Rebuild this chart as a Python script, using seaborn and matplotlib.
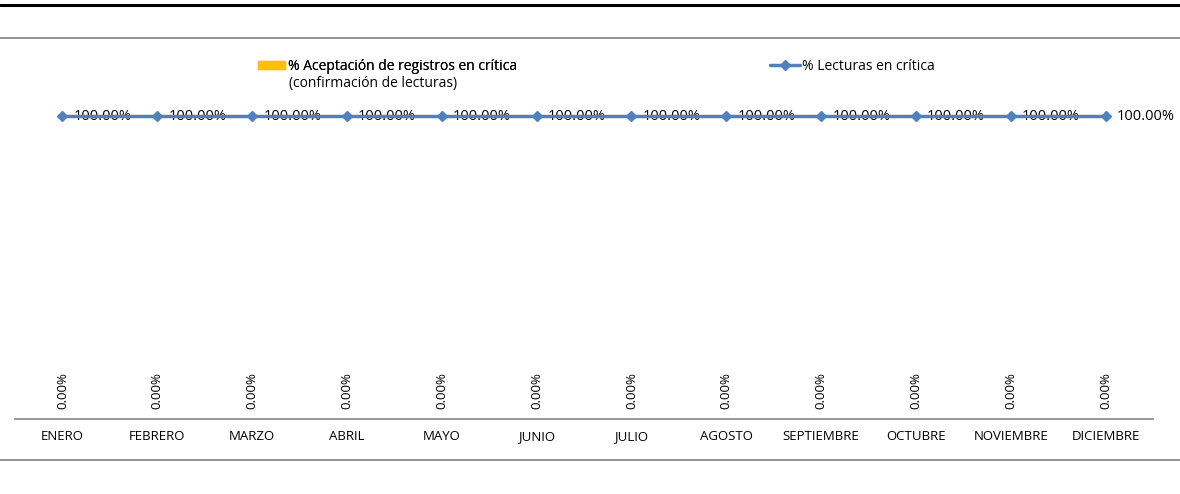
import numpy as np
import pandas as pd
import matplotlib
matplotlib.use('Agg')
import matplotlib.pyplot as plt
import seaborn as sns
from matplotlib.patches import Patch
from matplotlib.lines import Line2D

# data
meses = ['ENERO', 'FEBRERO', 'MARZO', 'ABRIL', 'MAYO', 'JUNIO', 'JULIO',
         'AGOSTO', 'SEPTIEMBRE', 'OCTUBRE', 'NOVIEMBRE', 'DICIEMBRE']
aceptacion = [0.0] * 12
lecturas = [1.0] * 12

sns.set_style('white')
plt.rcParams['font.family'] = ['Open Sans', 'DejaVu Sans']

W, H = 1180, 494
fig = plt.figure(figsize=(W / 100, H / 100), dpi=100)

# axes: x from 15 to 1153 px, y from 419 (0%) to 40 px
ax = fig.add_axes([15 / W, 1 - 419 / H, (1153 - 15) / W, (419 - 40) / H])
df = pd.DataFrame({'mes': meses, 'acept': aceptacion, 'lect': lecturas})

sns.barplot(data=df, x='mes', y='acept', color='#FFC000', ax=ax, width=0.6)
x = np.arange(len(meses))
ax.plot(x, df['lect'], color='#4F81BD', lw=2.5, marker='D', ms=5.5,
        clip_on=False, zorder=3)

ax.set_xlim(-0.5, len(meses) - 0.5)
ax.set_ylim(0, (419 - 40) / (419 - 116))
ax.set_xlabel('')
ax.set_ylabel('')
ax.set_yticks([])
for s in ['top', 'right', 'left']:
    ax.spines[s].set_visible(False)
ax.spines['bottom'].set_color('#868686')
ax.spines['bottom'].set_linewidth(1.2)
ax.set_xticks(x)
ax.set_xticklabels(meses, fontsize=9.5, color='black')
ax.tick_params(axis='x', which='major', length=0, pad=8)
ax.set_xticks(np.arange(len(meses) + 1) - 0.5, minor=True)
ax.tick_params(axis='x', which='minor', length=4, width=1.2, color='#868686',
               direction='out')

# data labels
for i, v in enumerate(df['lect']):
    ax.annotate(f'{v * 100:.2f}%', (i, v), xytext=(8, 0),
                textcoords='offset points', ha='left', va='center',
                fontsize=10.5, color='black', zorder=2)
for i, v in enumerate(df['acept']):
    ax.annotate(f'{v * 100:.2f}%', (i, v), xytext=(0, 7),
                textcoords='offset points', ha='center', va='bottom',
                rotation=90, fontsize=9.5, color='black')

# legends
leg1 = fig.legend(handles=[Patch(color='#FFC000')],
                  labels=['% Aceptación de registros en crítica'],
                  loc='upper left', bbox_to_anchor=(252 / W, 1 - 53 / H),
                  frameon=False, fontsize=10, labelcolor='black',
                  handlelength=2.0, handleheight=0.5, handletextpad=0.2,
                  borderaxespad=0)
fig.text(289 / W, 1 - 83 / H, '(confirmación de lecturas)', fontsize=10,
         va='center', ha='left', color='black')
fig.legend(handles=[Line2D([], [], color='#4F81BD', lw=2.5, marker='D', ms=5)],
           labels=['% Lecturas en crítica'],
           loc='upper left', bbox_to_anchor=(764 / W, 1 - 53 / H),
           frameon=False, fontsize=10, labelcolor='black', handlelength=2.2,
           handletextpad=0.1, borderaxespad=0)
fig.add_artist(leg1)

# frame lines
fig.add_artist(Line2D([0, 1], [1 - 5 / H, 1 - 5 / H], color='black', lw=2.2))
fig.add_artist(Line2D([0, 1], [1 - 38 / H, 1 - 38 / H], color='#808080', lw=1.2))
fig.add_artist(Line2D([0, 1], [1 - 460 / H, 1 - 460 / H], color='#808080', lw=1.2))

fig.savefig('out.png', dpi=100)
